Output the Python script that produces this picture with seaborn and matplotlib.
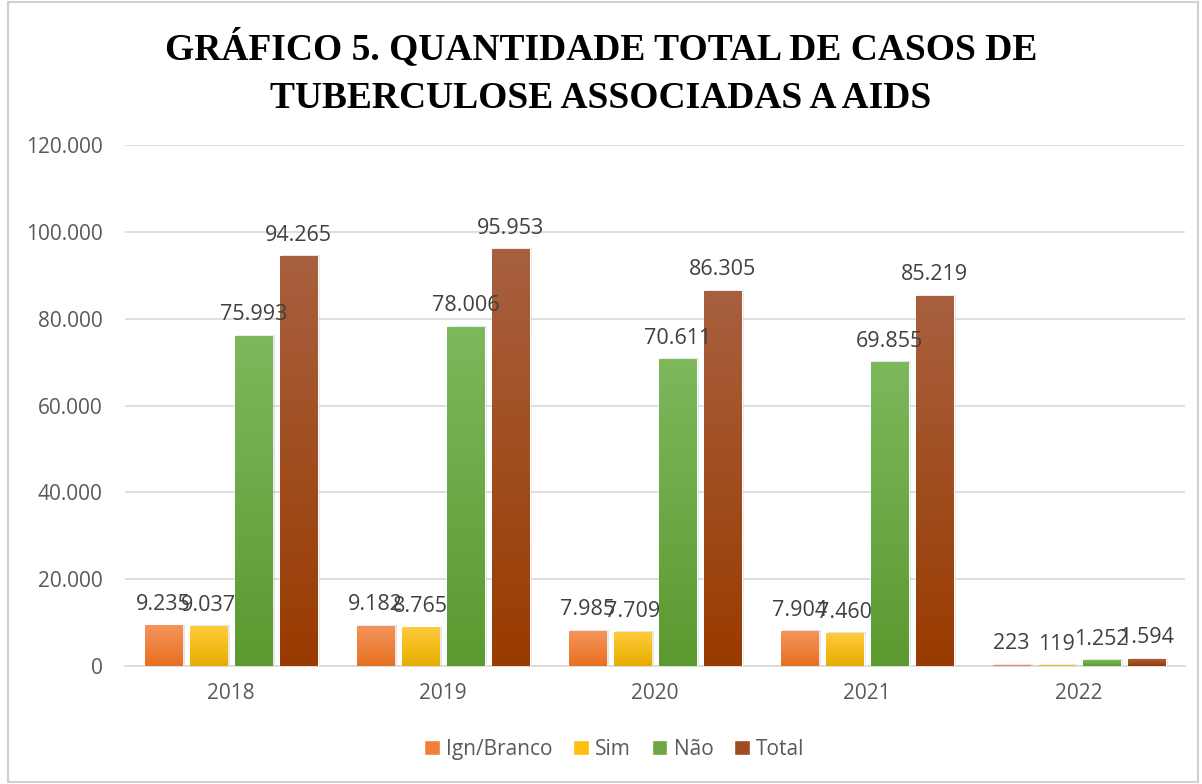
import numpy as np
import pandas as pd
import matplotlib
matplotlib.use("Agg")
import matplotlib.pyplot as plt
import matplotlib.patches as mpatches
from matplotlib.colors import to_rgb
import seaborn as sns

years = ["2018", "2019", "2020", "2021", "2022"]
series = ["Ign/Branco", "Sim", "Não", "Total"]
ign = [9235, 9182, 7985, 7904, 223]
sim = [9037, 8765, 7709, 7460, 119]
nao = [75993, 78006, 70611, 69855, 1252]
total = [94265, 95953, 86305, 85219, 1594]
title = "GRÁFICO 5. QUANTIDADE TOTAL DE CASOS DE\nTUBERCULOSE ASSOCIADAS A AIDS"

# gradient colors (top, bottom)
grad_colors = [("#F4945C", "#E8701F"), ("#FFCB3A", "#E6AD00"),
               ("#7DB85B", "#5A9A30"), ("#A8603F", "#993B00")]
legend_colors = ["#EF7F3A", "#FFBE10", "#6BA844", "#A04B20"]

df = pd.DataFrame({
    "year": years * 4,
    "series": [s for s in series for _ in years],
    "value": ign + sim + nao + total,
})

sns.set_theme(style="white")
plt.rcParams["font.family"] = ["Open Sans", "DejaVu Sans"]

fig = plt.figure(figsize=(12.02, 7.84), dpi=100)
ax = fig.add_axes([0.104, 0.1505, 0.882, 0.6645])

sns.barplot(data=df, x="year", y="value", hue="series", hue_order=series,
            order=years, palette=legend_colors, width=0.85, gap=0.16,
            ax=ax, legend=False, zorder=3)

ax.set_ylim(0, 120000)
xlim = ax.get_xlim()

for container, (ctop, cbot), vals in zip(ax.containers, grad_colors, [ign, sim, nao, total]):
    t = np.array(to_rgb(ctop)); b = np.array(to_rgb(cbot))
    ramp = np.linspace(0, 1, 128).reshape(-1, 1, 1)
    img = b + (t - b) * ramp
    for bar, v in zip(container, vals):
        x, y, w, h = bar.get_x(), bar.get_y(), bar.get_width(), bar.get_height()
        # shadow
        ax.add_patch(mpatches.Rectangle((x + w * 0.06, y), w, h + 300, facecolor="#000000",
                                        alpha=0.10, zorder=2, linewidth=0))
        ax.imshow(img, extent=[x, x + w, y, y + h], aspect="auto", origin="lower",
                  zorder=4, interpolation="bilinear")
        lbl = f"{v:,}".replace(",", ".")
        ax.text(x + w / 2, y + h + 2500, lbl, ha="center", va="bottom",
                fontsize=15.5, color="#404040", zorder=6)

ax.set_xlim(xlim)
ax.set_ylim(0, 120000)
ax.set_aspect("auto")

ticks = [0, 20000, 40000, 60000, 80000, 100000, 120000]
ax.set_yticks(ticks)
ax.set_yticklabels([f"{t:,}".replace(",", ".") for t in ticks])
ax.yaxis.grid(True, color="#D9D9D9", linewidth=1.2, zorder=0)
ax.set_axisbelow(True)
ax.tick_params(axis="y", length=0, pad=16, labelsize=15, labelcolor="#595959")
ax.tick_params(axis="x", length=0, pad=12, labelsize=15, labelcolor="#595959")
ax.set_xlabel(""); ax.set_ylabel("")
for s in ["top", "right", "left"]:
    ax.spines[s].set_visible(False)
ax.spines["bottom"].set_color("#D9D9D9")
ax.spines["bottom"].set_linewidth(1.2)

fig.text(0.5, 0.908, title, ha="center", va="center", fontsize=27,
         fontweight="bold", family=["Liberation Serif", "DejaVu Serif"],
         color="#000000", linespacing=1.48)

handles = [mpatches.Patch(facecolor=c, label=s) for c, s in zip(legend_colors, series)]
fig.legend(handles=handles, loc="center", bbox_to_anchor=(0.511, 0.044), ncol=4,
           frameon=False, fontsize=15, handlelength=0.75, handleheight=0.75,
           handletextpad=0.3, columnspacing=1.0, labelcolor="#595959")

fig.patches.append(mpatches.Rectangle((0.007, 0.002), 0.99, 0.996, transform=fig.transFigure,
                                      fill=False, edgecolor="#D0D0D0", linewidth=1.5))

fig.savefig("out.png", dpi=100)
